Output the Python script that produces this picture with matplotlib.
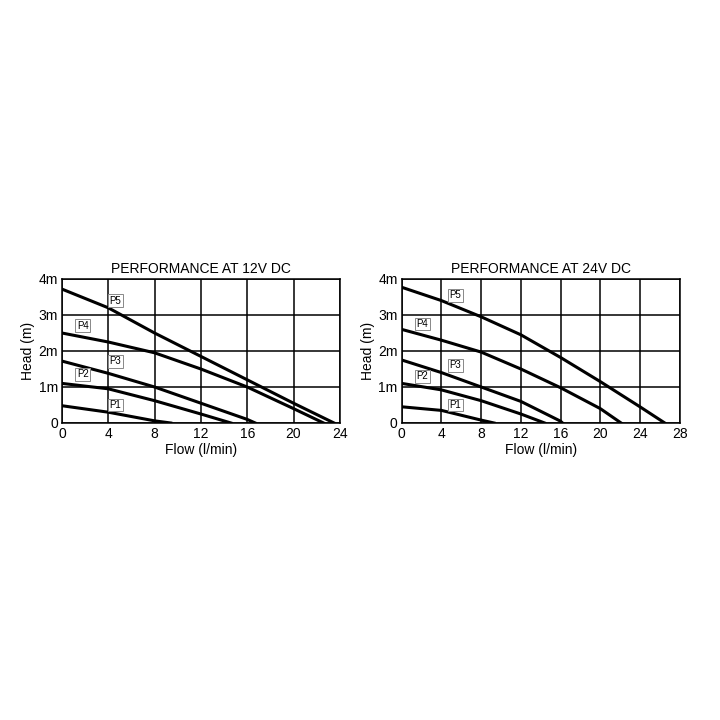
import matplotlib
matplotlib.use("Agg")
import matplotlib.pyplot as plt

plt.rcParams["font.family"] = ["Liberation Sans", "DejaVu Sans"]

# 12V curves: (flow, head)
flow_12 = {
    "P5": [0, 4, 8, 12, 16, 20, 23.5],
    "P4": [0, 4, 8, 12, 16, 20, 22.6],
    "P3": [0, 4, 8, 12, 16, 16.7],
    "P2": [0, 4, 8, 12, 14.6],
    "P1": [0, 4, 8, 9.4],
}
head_12 = {
    "P5": [3.72, 3.2, 2.5, 1.85, 1.2, 0.55, 0],
    "P4": [2.5, 2.25, 1.95, 1.5, 1.0, 0.4, 0],
    "P3": [1.72, 1.38, 1.0, 0.55, 0.1, 0],
    "P2": [1.1, 0.95, 0.62, 0.25, 0],
    "P1": [0.48, 0.3, 0.06, 0],
}
labels_12 = {"P5": (4.6, 3.4), "P4": (1.8, 2.7), "P3": (4.6, 1.72), "P2": (1.8, 1.35), "P1": (4.6, 0.5)}

flow_24 = {
    "P5": [0, 4, 8, 12, 16, 20, 24, 26.5],
    "P4": [0, 4, 8, 12, 16, 20, 22.1],
    "P3": [0, 4, 8, 12, 16, 16.2],
    "P2": [0, 4, 8, 12, 14.4],
    "P1": [0, 4, 8, 9.3],
}
head_24 = {
    "P5": [3.77, 3.4, 2.95, 2.45, 1.82, 1.15, 0.45, 0],
    "P4": [2.6, 2.3, 1.97, 1.5, 0.98, 0.4, 0],
    "P3": [1.75, 1.4, 1.0, 0.6, 0.05, 0],
    "P2": [1.1, 0.92, 0.62, 0.25, 0],
    "P1": [0.45, 0.35, 0.08, 0],
}
labels_24 = {"P5": (5.4, 3.55), "P4": (2.1, 2.75), "P3": (5.4, 1.6), "P2": (2.1, 1.3), "P1": (5.4, 0.5)}

y_ticks = [0, 1, 2, 3, 4]
y_labels = ["0", "1m", "2m", "3m", "4m"]


def draw(ax, flows, heads, labels, xmax, title):
    for k in flows:
        ax.plot(flows[k], heads[k], color="black", lw=2.2)
        x, y = labels[k]
        ax.text(x, y, k, fontsize=7, ha="center", va="center",
                bbox=dict(boxstyle="square,pad=0.15", fc="white", ec="#888888", lw=0.7))
    ax.set_xlim(0, xmax)
    ax.set_ylim(0, 4)
    ax.set_xticks(range(0, xmax + 1, 4))
    ax.set_yticks(y_ticks)
    ax.set_yticklabels(y_labels)
    ax.grid(color="black", lw=1.1)
    for s in ax.spines.values():
        s.set_linewidth(1.1)
    ax.tick_params(length=0, labelsize=10, pad=3)
    ax.set_xlabel("Flow (l/min)", fontsize=10, labelpad=1)
    ax.set_ylabel("Head (m)", fontsize=10, labelpad=2)
    ax.set_title(title, fontsize=10, pad=4)


fig = plt.figure(figsize=(7.2, 7.2), dpi=100)
ax1 = fig.add_axes([0.086, 0.4125, 0.386, 0.2])
ax2 = fig.add_axes([0.558, 0.4125, 0.386, 0.2])
draw(ax1, flow_12, head_12, labels_12, 24, "PERFORMANCE AT 12V DC")
draw(ax2, flow_24, head_24, labels_24, 28, "PERFORMANCE AT 24V DC")
fig.savefig("out.png", dpi=100)
